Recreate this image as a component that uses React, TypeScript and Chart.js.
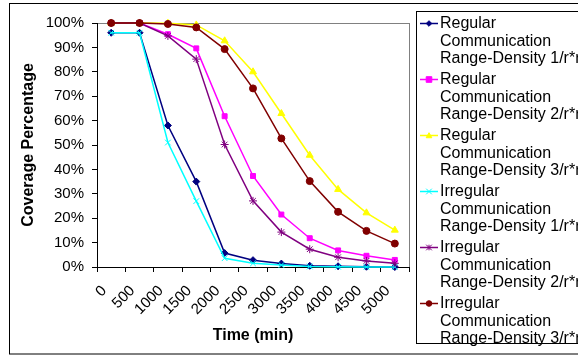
import React, { useEffect, useRef } from "react";
import { Chart, registerables } from "chart.js";

Chart.register(...registerables);

const categories = ["0", "500", "1000", "1500", "2000", "2500", "3000", "3500", "4000", "4500", "5000"];

const regular1 = [96, 96, 58, 35, 5.7, 2.8, 1.4, 0.5, 0.3, 0.1, 0];
const regular2 = [100, 100, 95.4, 89.6, 61.8, 37.3, 21.5, 11.8, 6.8, 4.6, 2.9];
const regular3 = [100, 100, 99.9, 99.2, 92.7, 80, 62.9, 45.8, 31.8, 22.2, 15.1];
const irregular1 = [96, 96, 51, 27, 3.6, 1.5, 0.8, 0.2, 0.1, 0, 0];
const irregular2 = [100, 100, 94.7, 85.2, 50.2, 27.1, 14.3, 7.3, 4.0, 2.5, 1.5];
const irregular3 = [100, 100, 99.6, 98.2, 89.3, 73.2, 52.7, 35.2, 22.6, 14.8, 9.6];

const seriesLabels = [
  ["Regular", "Communication", "Range-Density 1/r*r"],
  ["Regular", "Communication", "Range-Density 2/r*r"],
  ["Regular", "Communication", "Range-Density 3/r*r"],
  ["Irregular", "Communication", "Range-Density 1/r*r"],
  ["Irregular", "Communication", "Range-Density 2/r*r"],
  ["Irregular", "Communication", "Range-Density 3/r*r"],
];

const seriesValues = [regular1, regular2, regular3, irregular1, irregular2, irregular3];
const seriesColors = ["#000080", "#FF00FF", "#FFFF00", "#00FFFF", "#800080", "#800000"];
const seriesMarkers = ["rectRot", "rect", "triangle", "crossRot", "star", "circle"];
const markerSizes = [3.5, 3.5, 4, 4, 4, 3.5];

const yTicks = [0, 10, 20, 30, 40, 50, 60, 70, 80, 90, 100];

const FONT = "'Liberation Sans', Arial, sans-serif";

function drawMarker(ctx: CanvasRenderingContext2D, style: string, x: number, y: number, r: number) {
  ctx.beginPath();
  if (style === "rectRot") {
    ctx.moveTo(x, y - r);
    ctx.lineTo(x + r, y);
    ctx.lineTo(x, y + r);
    ctx.lineTo(x - r, y);
    ctx.closePath();
    ctx.fill();
    ctx.stroke();
  } else if (style === "rect") {
    ctx.rect(x - r, y - r, 2 * r, 2 * r);
    ctx.fill();
    ctx.stroke();
  } else if (style === "triangle") {
    ctx.moveTo(x, y - r);
    ctx.lineTo(x + r, y + r * 0.8);
    ctx.lineTo(x - r, y + r * 0.8);
    ctx.closePath();
    ctx.fill();
    ctx.stroke();
  } else if (style === "crossRot") {
    ctx.moveTo(x - r, y - r);
    ctx.lineTo(x + r, y + r);
    ctx.moveTo(x + r, y - r);
    ctx.lineTo(x - r, y + r);
    ctx.stroke();
  } else if (style === "star") {
    ctx.moveTo(x - r, y - r);
    ctx.lineTo(x + r, y + r);
    ctx.moveTo(x + r, y - r);
    ctx.lineTo(x - r, y + r);
    ctx.moveTo(x, y - r);
    ctx.lineTo(x, y + r);
    ctx.stroke();
  } else {
    ctx.arc(x, y, r, 0, Math.PI * 2);
    ctx.fill();
    ctx.stroke();
  }
}

const framePlugin = {
  id: "frame",
  beforeDraw(chart: any) {
    const ctx = chart.ctx;
    ctx.save();
    ctx.fillStyle = "#ffffff";
    ctx.fillRect(0, 0, chart.width, chart.height);
    ctx.strokeStyle = "#000000";
    ctx.lineWidth = 1;
    ctx.strokeRect(9.5, 3.5, 620, 350.5);
    const a = chart.chartArea;
    ctx.strokeStyle = "#808080";
    ctx.strokeRect(Math.round(a.left) + 0.5, Math.round(a.top) + 0.5, Math.round(a.right - a.left), Math.round(a.bottom - a.top));
    ctx.restore();
  },
  afterDraw(chart: any) {
    const ctx = chart.ctx;
    ctx.save();
    ctx.strokeStyle = "#000000";
    ctx.lineWidth = 1;
    ctx.fillStyle = "#ffffff";
    ctx.fillRect(416.5, 11.5, 200, 332);
    ctx.strokeRect(416.5, 11.5, 200, 332);
    const pitch = 56;
    const lh = 17.6;
    ctx.font = `16px ${FONT}`;
    ctx.textBaseline = "middle";
    ctx.textAlign = "left";
    seriesLabels.forEach((lines, i) => {
      const y0 = 23.5 + i * pitch;
      const ds = chart.data.datasets[i];
      ctx.strokeStyle = ds.borderColor;
      ctx.lineWidth = 1.5;
      ctx.beginPath();
      ctx.moveTo(420, y0);
      ctx.lineTo(438, y0);
      ctx.stroke();
      ctx.fillStyle = ds.backgroundColor;
      ctx.strokeStyle = ds.borderColor;
      ctx.lineWidth = 1;
      drawMarker(ctx, ds.pointStyle, 429, y0, 2.8);
      ctx.fillStyle = "#000000";
      lines.forEach((t, j) => {
        ctx.fillText(t, 440, y0 + j * lh);
      });
    });
    ctx.restore();
  },
};

export default function App() {
  const ref = useRef<HTMLCanvasElement>(null);

  useEffect(() => {
    document.body.style.margin = "0";
    document.body.style.overflow = "hidden";
    const canvas = ref.current;
    if (!canvas) return;
    const datasets = seriesValues.map((vals, i) => ({
      label: seriesLabels[i].join(" "),
      data: vals,
      borderColor: seriesColors[i],
      backgroundColor: seriesColors[i],
      pointBackgroundColor: seriesColors[i],
      pointBorderColor: seriesColors[i],
      pointStyle: seriesMarkers[i],
      pointRadius: markerSizes[i],
      pointBorderWidth: 1,
      borderWidth: 1.5,
      tension: 0,
      fill: false,
      clip: false as any,
      order: 5 - i,
    }));
    const chart = new Chart(canvas, {
      type: "line",
      data: { labels: categories, datasets },
      plugins: [framePlugin],
      options: {
        animation: false,
        responsive: false,
        maintainAspectRatio: false,
        devicePixelRatio: 1,
        layout: { padding: { left: 0, top: 23, right: 169, bottom: 0 } },
        plugins: {
          legend: { display: false },
          tooltip: { enabled: false },
        },
        scales: {
          x: {
            type: "category",
            offset: true,
            grid: {
              offset: true,
              drawOnChartArea: false,
              drawTicks: true,
              tickLength: 5,
              color: "#000000",
            },
            border: { color: "#000000", width: 1 },
            ticks: {
              color: "#000000",
              font: { family: FONT, size: 15 },
              maxRotation: 45,
              minRotation: 45,
              padding: 10,
              labelOffset: -7,
              autoSkip: false,
            },
            title: {
              display: true,
              text: "Time (min)",
              color: "#000000",
              font: { family: FONT, size: 16, weight: "bold" },
              padding: { top: 0, bottom: 11 },
            },
            afterFit: (scale: any) => {
              scale.height = 89;
            },
          },
          y: {
            type: "linear",
            min: 0,
            max: 100,
            afterBuildTicks: (scale: any) => {
              scale.ticks = yTicks.map((v) => ({ value: v }));
            },
            grid: {
              drawOnChartArea: false,
              drawTicks: true,
              tickLength: 5,
              color: "#000000",
            },
            border: { color: "#000000", width: 1 },
            ticks: {
              color: "#000000",
              font: { family: FONT, size: 15 },
              padding: 8,
              callback: (v: any) => `${v}%`,
            },
            title: {
              display: true,
              text: "Coverage Percentage",
              color: "#000000",
              font: { family: FONT, size: 16, weight: "bold" },
              padding: { top: 19, bottom: 0 },
            },
            afterFit: (scale: any) => {
              scale.width = 97;
            },
          },
        },
      },
    });
    return () => chart.destroy();
  }, []);

  return (
    <div style={{ width: 578, height: 356, overflow: "hidden", position: "relative" }}>
      <canvas ref={ref} width={578} height={356} style={{ display: "block", width: 578, height: 356 }} />
    </div>
  );
}
